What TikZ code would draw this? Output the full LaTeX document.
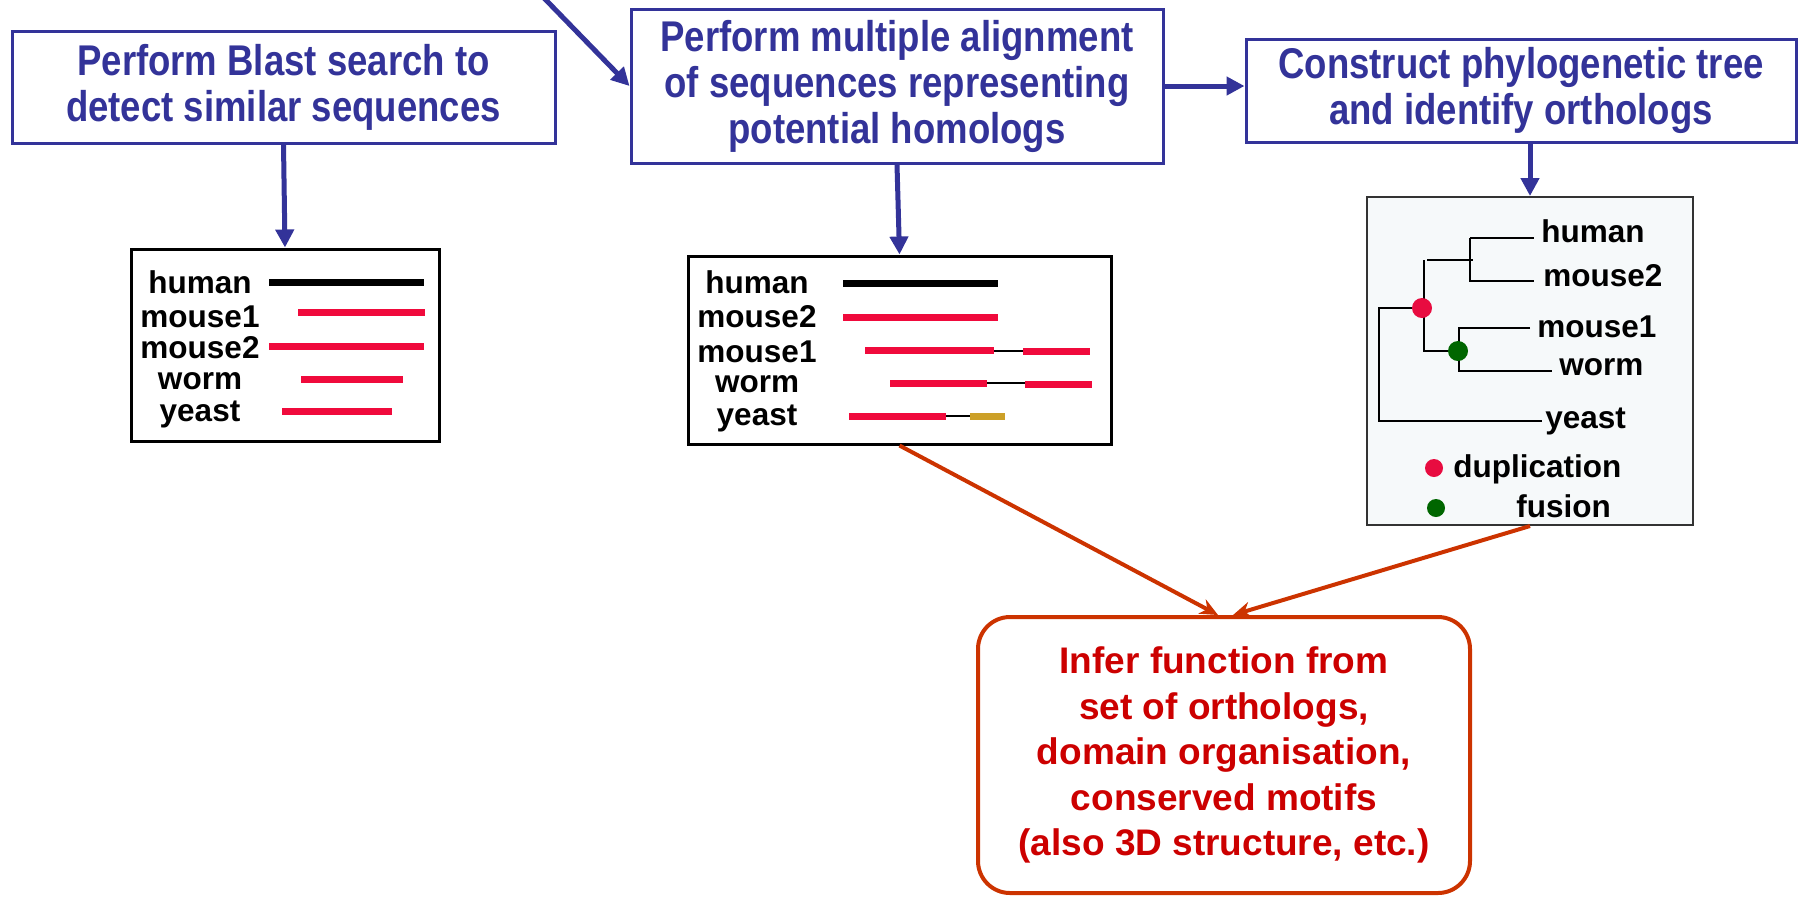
\documentclass[tikz,border=0pt]{standalone}
\usepackage{fontspec}
\setmainfont{Liberation Sans}
\newfontfamily\stepfont[FakeStretch=0.85]{Liberation Sans}
\usetikzlibrary{arrows.meta,positioning,calc}
\definecolor{stepblue}{RGB}{51,51,153}
\definecolor{barred}{RGB}{240,10,60}
\definecolor{bargold}{RGB}{204,160,40}
\definecolor{dupred}{RGB}{232,12,64}
\definecolor{fusegreen}{RGB}{0,102,0}
\definecolor{treebg}{RGB}{246,249,250}
\definecolor{inferline}{RGB}{204,51,0}
\definecolor{infertext}{RGB}{204,0,0}
\tikzset{
    >=Stealth,
    stepbox/.style={rectangle, draw=stepblue, line width=1.5pt, text=stepblue, align=center, inner sep=0pt, font=\stepfont\fontsize{21.5}{23}\selectfont\bfseries},
    seqbox/.style={rectangle, draw=black, line width=1.5pt, fill=white},
    treebox/.style={rectangle, draw=black!80, line width=1pt, fill=treebg},
    resultbox/.style={rectangle, rounded corners=16pt, draw=inferline, line width=2pt, text=infertext, align=center, font=\fontsize{18.5}{22.75}\selectfont\bfseries},
    taxon/.style={inner sep=0pt, font=\fontsize{15.75}{18}\selectfont\bfseries},
    stepflow/.style={->, draw=stepblue, line width=2.5pt, >={Triangle[length=9pt,width=9pt]}},
    inferflow/.style={->, draw=inferline, line width=2pt, >={Stealth[length=9pt,width=8pt]}},
    bar/.style={line width=3.5pt},
    gap/.style={line width=1pt},
    branch/.style={line width=1pt}
}
\begin{document}
\begin{tikzpicture}[x=0.5pt, y=-0.5pt]
    \useasboundingbox (0,0) rectangle (1814,896);
    % steps of the pipeline
    \node[stepbox, minimum width=271.5pt, minimum height=56pt] (blast) at (283.5,87) {Perform Blast search to\\detect similar sequences};
    \node[stepbox, minimum width=266pt, minimum height=77pt] (align) at (897,86) {Perform multiple alignment\\of sequences representing\\potential homologs};
    \node[stepbox, minimum width=275pt, minimum height=51.5pt] (tree) at (1521,90.5) {Construct phylogenetic tree\\and identify orthologs};
    % results of each step
    \node[seqbox, minimum width=154pt, minimum height=96pt] (hits) at (285,345) {};
    \node[seqbox, minimum width=211.5pt, minimum height=94pt] (msa) at (899.5,350) {};
    \node[treebox, minimum width=163pt, minimum height=164pt] (phylo) at (1530,361) {};
    \node[resultbox, minimum width=246pt, minimum height=138pt] (infer) at (1224,755) {
        Infer function from\\
        set of orthologs,\\
        domain organisation,\\
        conserved motifs\\
        (also 3D structure, etc.)
    };
    % connectors
    \coordinate (query) at (544,-2);
    \draw[stepflow] (query) -- (align.west);
    \draw[stepflow] (align.east) -- (align.east -| tree.west);
    \draw[stepflow] (blast.south) -- (hits.north);
    \draw[stepflow] (align.south) -- (msa.north);
    \draw[stepflow] (phylo.north |- tree.south) -- (phylo.north);
    \draw[inferflow] (msa.south) -- ($(infer.north)+(-6,0)$);
    \draw[inferflow] (phylo.south) -- ($(infer.north)+(9,0)$);
    % blast hits
    \node[taxon, anchor=base] (hhuman) at (200,293) {human};
    \node[taxon, anchor=base] (hmouse1) at (200,327) {mouse1};
    \node[taxon, anchor=base] (hmouse2) at (200,358) {mouse2};
    \node[taxon, anchor=base] (hworm) at (200,389) {worm};
    \node[taxon, anchor=base] (hyeast) at (200,421) {yeast};
    \draw[bar] (269,282) -- (424,282);
    \draw[bar, barred] (298,312) -- (425,312);
    \draw[bar, barred] (269,346) -- (424,346);
    \draw[bar, barred] (301,379) -- (403,379);
    \draw[bar, barred] (282,411) -- (392,411);
    % multiple alignment
    \node[taxon, anchor=base] (ahuman) at (757,293) {human};
    \node[taxon, anchor=base] (amouse2) at (757,327) {mouse2};
    \node[taxon, anchor=base] (amouse1) at (757,362) {mouse1};
    \node[taxon, anchor=base] (aworm) at (757,392) {worm};
    \node[taxon, anchor=base] (ayeast) at (757,425) {yeast};
    \draw[bar] (843,283) -- (998,283);
    \draw[bar, barred] (843,317) -- (998,317);
    \draw[gap] (994,351) -- (1023,351);
    \draw[bar, barred] (865,350) -- (994,350);
    \draw[bar, barred] (1023,351) -- (1090,351);
    \draw[gap] (987,383) -- (1025,383);
    \draw[bar, barred] (890,383) -- (987,383);
    \draw[bar, barred] (1025,384) -- (1092,384);
    \draw[gap] (946,416) -- (970,416);
    \draw[bar, barred] (849,416) -- (946,416);
    \draw[bar, bargold] (970,416) -- (1005,416);
    % phylogenetic tree
    \draw[branch] (1470,238) -- (1534,238);
    \draw[branch] (1470,238) -- (1470,281) -- (1534,281);
    \draw[branch] (1427,260) -- (1473,260);
    \draw[branch] (1424,260) -- (1424,351) -- (1459,351);
    \draw[branch] (1530,328) -- (1459,328) -- (1459,371) -- (1552,371);
    \draw[branch] (1424,308) -- (1379,308) -- (1379,421) -- (1542,421);
    \fill[dupred] (1422,308) circle (5pt);
    \fill[fusegreen] (1458,351) circle (5pt);
    \node[taxon, anchor=base west] (thuman) at (1541,242) {human};
    \node[taxon, anchor=base west] (tmouse2) at (1543,286) {mouse2};
    \node[taxon, anchor=base west] (tmouse1) at (1537,337) {mouse1};
    \node[taxon, anchor=base west] (tworm) at (1559,375) {worm};
    \node[taxon, anchor=base west] (tyeast) at (1545,428) {yeast};
    % legend
    \fill[dupred] (1434,468) circle (4.5pt);
    \fill[fusegreen] (1436,508) circle (4.5pt);
    \node[taxon, anchor=base west] (dup) at (1453,477) {duplication};
    \node[taxon, anchor=base west] (fus) at (1516,517) {fusion};
\end{tikzpicture}
\end{document}
